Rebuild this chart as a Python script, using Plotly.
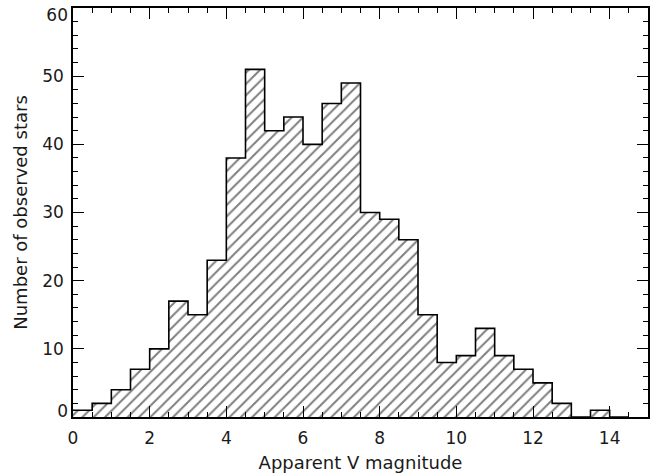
import plotly.graph_objects as go

bin_edges = [i * 0.5 for i in range(30)]  # 0 .. 14.5
counts = [1, 2, 4, 7, 10, 17, 15, 23, 38, 51, 42, 44, 40, 46, 49,
          30, 29, 26, 15, 8, 9, 13, 9, 7, 5, 2, 0, 1, 0]
bin_width = 0.5
centers = [e + bin_width / 2 for e in bin_edges[:-1]]

y_mid_ticks = [10, 20, 30, 40, 50]
y_top_tick = [60]
y_bottom_tick = [0]

x_title = "Apparent V magnitude"
y_title = "Number of observed stars"

font_family = "DejaVu Sans"
txt_color = "#1a1a1a"

fig = go.Figure()

# hatched fill
fig.add_trace(go.Bar(
    x=centers, y=counts, width=bin_width,
    marker=dict(color="white", line=dict(width=0),
                pattern=dict(shape="/", fgcolor="black", bgcolor="white",
                             size=8, solidity=0.25)),
    showlegend=False, hoverinfo="skip",
))

# step outline
fig.add_trace(go.Scatter(
    x=bin_edges, y=counts + [counts[-1]],
    mode="lines", line=dict(color="black", width=1.6, shape="hv"),
    showlegend=False, hoverinfo="skip",
))

# invisible traces for extra axes
for xa, ya in [("x2", "y2"), ("x", "y3"), ("x", "y4")]:
    fig.add_trace(go.Scatter(x=[0], y=[0], xaxis=xa, yaxis=ya, mode="markers",
                             marker=dict(opacity=0), showlegend=False, hoverinfo="skip"))

tickfont = dict(family=font_family, size=17, color=txt_color)
titlefont = dict(family=font_family, size=18, color=txt_color)

common = dict(showline=True, linecolor="black", linewidth=1.5,
              ticks="inside", ticklen=11, tickwidth=1.3, tickcolor="black",
              showgrid=False, zeroline=False, automargin=False)
label_only = dict(showline=False, ticks="", showgrid=False, zeroline=False,
                  automargin=False, tickfont=tickfont, ticklabelstandoff=4,
                  ticklabeloverflow="allow", range=[0, 60], tickmode="array")

fig.update_layout(
    width=662, height=476,
    margin=dict(l=73, r=14, t=8, b=59),
    paper_bgcolor="white", plot_bgcolor="white",
    bargap=0,
    xaxis=dict(range=[0, 15], tick0=0, dtick=2,
               minor=dict(dtick=0.5, ticklen=5, ticks="inside", tickcolor="black", tickwidth=1.2),
               tickfont=tickfont, ticklabelstandoff=5, ticklabeloverflow="allow",
               title=dict(text=x_title, font=titlefont, standoff=9),
               **common),
    yaxis=dict(range=[0, 60], tickmode="array", tickvals=y_mid_ticks,
               minor=dict(dtick=2, ticklen=5, ticks="inside", tickcolor="black", tickwidth=1.2),
               tickfont=tickfont, ticklabelstandoff=4, ticklabeloverflow="allow",
               title=dict(text=y_title, font=titlefont, standoff=10),
               **common),
    yaxis3=dict(overlaying="y", side="left", tickvals=y_top_tick, ticklabelshift=7, **label_only),
    yaxis4=dict(overlaying="y", side="left", tickvals=y_bottom_tick, ticklabelshift=-6, **label_only),
    xaxis2=dict(range=[0, 15], tick0=0, dtick=2, overlaying="x", side="top",
                showticklabels=False,
                minor=dict(dtick=0.5, ticklen=5, ticks="inside", tickcolor="black", tickwidth=1.2),
                **common),
    yaxis2=dict(range=[0, 60], tick0=0, dtick=10, overlaying="y", side="right",
                showticklabels=False,
                minor=dict(dtick=2, ticklen=5, ticks="inside", tickcolor="black", tickwidth=1.2),
                **common),
)

fig.write_html("out.html", config={"displayModeBar": False},
               post_script="document.body.style.margin='0';")
